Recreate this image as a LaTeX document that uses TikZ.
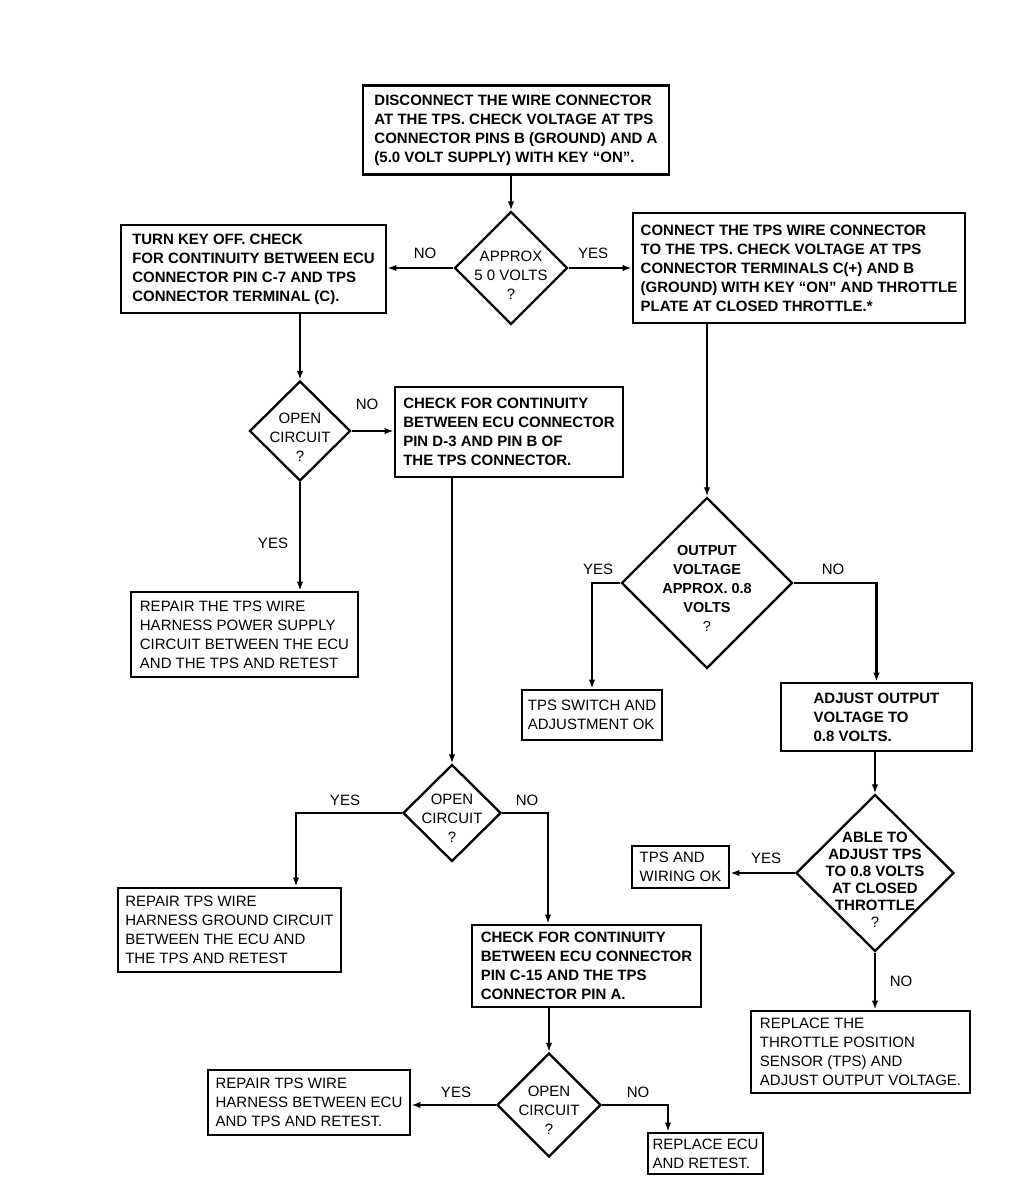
\documentclass[tikz,border=0pt]{standalone}
\usepackage{fontspec}
\setmainfont{Liberation Sans}
\usetikzlibrary{shapes.geometric}
\usetikzlibrary{arrows.meta}
\usetikzlibrary{positioning}

\begin{document}
\begin{tikzpicture}
[
	x								= 1pt,
	y								= -1pt,
	%
	% boxes | thin boxes | decisions | answers
	box/.style						=
	{
		draw,
		line width					= 2.8pt,
		align						= left,
		inner xsep					= 5pt,
		font						= \bfseries\fontsize{15}{19}\selectfont
	},
	thin box/.style					= {box, font = \fontsize{15}{19}\selectfont},
	boxsize/.style 2 args			= {minimum width = #1pt, minimum height = #2pt},
	decision/.style					= {draw, diamond, line width = 2.3pt, inner sep = 0pt},
	ask/.style						= {align = center, font = \fontsize{15}{19}\selectfont},
	bold ask/.style					= {ask, font = \bfseries\fontsize{14.5}{19}\selectfont},
	answer/.style					= {font = \fontsize{15}{18}\selectfont},
	flow/.style						= {line width = 2.2pt, -{Latex[length=9pt,width=6.5pt]}},
]
	\useasboundingbox (0,0) rectangle (1019,1185);

	% first check
	\node (disc) [box, boxsize = {306}{89}] at (516,130)
		{DISCONNECT THE WIRE CONNECTOR\\AT THE TPS. CHECK VOLTAGE AT TPS\\CONNECTOR PINS B (GROUND) AND A\\(5.0 VOLT SUPPLY) WITH KEY ``ON''.};
	\node (approx) [decision, minimum width = 113pt, minimum height = 113pt] at (511,268) {};
	\node (approxq) [ask] at (511,275) {APPROX\\5 0 VOLTS\\?};

	% left branch
	\node (keyoff) [box, boxsize = {265}{88}] at (253.5,269)
		{TURN KEY OFF. CHECK\\FOR CONTINUITY BETWEEN ECU\\CONNECTOR PIN C-7 AND TPS\\CONNECTOR TERMINAL (C).};
	\node (openc) [decision, minimum width = 101pt, minimum height = 100pt] at (300,431) {};
	\node (opencq) [ask] at (300,437) {OPEN\\CIRCUIT\\?};
	\node (pinD) [box, boxsize = {228}{90}] at (509,432)
		{CHECK FOR CONTINUITY\\BETWEEN ECU CONNECTOR\\PIN D-3 AND PIN B OF\\THE TPS CONNECTOR.};
	\node (rpower) [thin box, boxsize = {227}{85}] at (244.5,634.5)
		{REPAIR THE TPS WIRE\\HARNESS POWER SUPPLY\\CIRCUIT BETWEEN THE ECU\\AND THE TPS AND RETEST};
	\node (opend) [decision, minimum width = 98pt, minimum height = 97pt] at (452,813) {};
	\node (opendq) [ask] at (452,818) {OPEN\\CIRCUIT\\?};
	\node (rground) [thin box, boxsize = {223}{84}] at (229.5,930)
		{REPAIR TPS WIRE\\HARNESS GROUND CIRCUIT\\BETWEEN THE ECU AND\\THE TPS AND RETEST};
	\node (pinC) [box, boxsize = {229}{82}] at (586.5,966)
		{CHECK FOR CONTINUITY\\BETWEEN ECU CONNECTOR\\PIN C-15 AND THE TPS\\CONNECTOR PIN A.};
	\node (opene) [decision, minimum width = 104pt, minimum height = 104pt] at (549,1105) {};
	\node (openeq) [ask] at (549,1110) {OPEN\\CIRCUIT\\?};
	\node (rharness) [thin box, boxsize = {202}{65}] at (309,1102.5)
		{REPAIR TPS WIRE\\HARNESS BETWEEN ECU\\AND TPS AND RETEST.};
	\node (recu) [thin box, inner xsep = 3pt, boxsize = {115}{41}] at (705.5,1153.5)
		{REPLACE ECU\\AND RETEST.};

	% right branch
	\node (conn) [box, boxsize = {332}{110}] at (799,268)
		{CONNECT THE TPS WIRE CONNECTOR\\TO THE TPS. CHECK VOLTAGE AT TPS\\CONNECTOR TERMINALS C(+) AND B\\(GROUND) WITH KEY ``ON'' AND THROTTLE\\PLATE AT CLOSED THROTTLE.*};
	\node (outv) [decision, minimum width = 171pt, minimum height = 171pt] at (707,583) {};
	\node (outvq) [bold ask] at (707,588) {OUTPUT\\VOLTAGE\\APPROX. 0.8\\VOLTS\\\mdseries ?};
	\node (swok) [thin box, boxsize = {140}{50}] at (592,715)
		{TPS SWITCH AND\\ADJUSTMENT OK};
	\node (adjust) [box, boxsize = {191}{68}] at (876.5,717)
		{ADJUST OUTPUT\\VOLTAGE TO\\0.8 VOLTS.};
	\node (able) [decision, minimum width = 158pt, minimum height = 157pt] at (875,873) {};
	\node (ableq) [bold ask, font = \bfseries\fontsize{15}{17}\selectfont] at (875,880)
		{ABLE TO\\ADJUST TPS\\TO 0.8 VOLTS\\AT CLOSED\\THROTTLE\\\mdseries ?};
	\node (wiring) [thin box, boxsize = {97}{42}] at (680.5,867)
		{TPS AND\\WIRING OK};
	\node (rtps) [thin box, boxsize = {219}{82}] at (860.5,1052)
		{REPLACE THE\\THROTTLE POSITION\\SENSOR (TPS) AND\\ADJUST OUTPUT VOLTAGE.};

	% answers
	\node (a1) [answer] at (425,253) {NO};
	\node (a2) [answer] at (593,253) {YES};
	\node (a3) [answer] at (367,404) {NO};
	\node (a4) [answer] at (273,543) {YES};
	\node (a5) [answer] at (345,800) {YES};
	\node (a6) [answer] at (527,800) {NO};
	\node (a7) [answer] at (456,1092) {YES};
	\node (a8) [answer] at (638,1092) {NO};
	\node (a9) [answer] at (598,569) {YES};
	\node (a10) [answer] at (833,569) {NO};
	\node (a11) [answer] at (766,858) {YES};
	\node (a12) [answer] at (901,981) {NO};

	% connectors
	\draw [flow] (approx.north |- disc.south) -- (approx.north);
	\draw [flow] (approx.west) -- (approx.west -| keyoff.east);
	\draw [flow] (approx.east) -- (approx.east -| conn.west);
	\draw [flow] (openc.north |- keyoff.south) -- (openc.north);
	\draw [flow] (openc.east) -- (openc.east -| pinD.west);
	\draw [flow] (openc.south) -- (openc.south |- rpower.north);
	\draw [flow] (opend.north |- pinD.south) -- (opend.north);
	\draw [flow] (opend.west) -| ([xshift=66.5pt]rground.north);
	\draw [flow] (opend.east) -| ([xshift=-38.5pt]pinC.north);
	\draw [flow] (opene.north |- pinC.south) -- (opene.north);
	\draw [flow] (opene.west) -- (opene.west -| rharness.east);
	\draw [flow] (opene.east) -| ([xshift=-37.5pt]recu.north);
	\draw [flow] (outv.north |- conn.south) -- (outv.north);
	\draw [flow] (outv.west) -| (swok.north);
	\draw [flow] (outv.east) -| (adjust.north);
	\draw [flow] (able.north |- adjust.south) -- (able.north);
	\draw [flow] (able.west) -- (able.west -| wiring.east);
	\draw [flow] (able.south) -- (able.south |- rtps.north);

\end{tikzpicture}
\end{document}
